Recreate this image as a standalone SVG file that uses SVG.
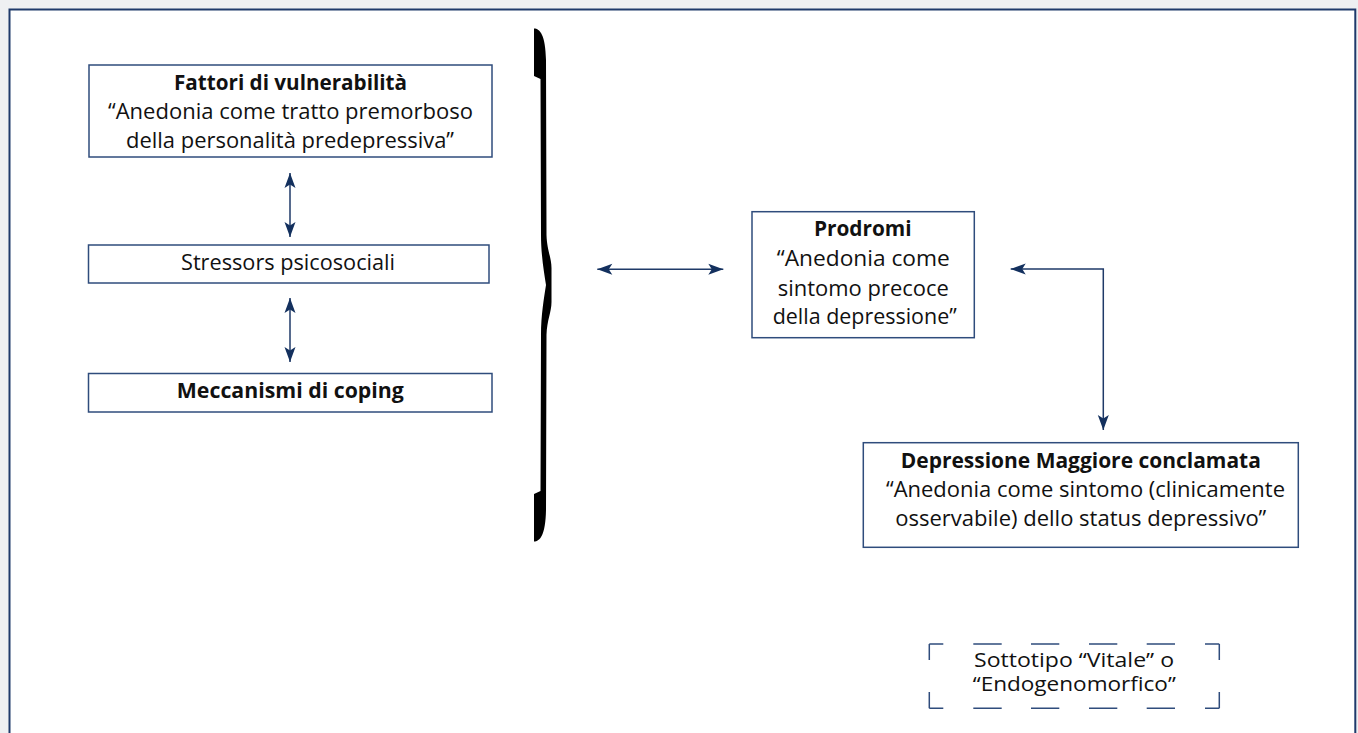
<svg xmlns="http://www.w3.org/2000/svg" width="1358" height="733" viewBox="0 0 1358 733">
<style>
.bg{fill:#eef0f2}
.page{fill:#ffffff}
.frame{fill:none;stroke:#1f3a6b;stroke-width:2}
.box{fill:#ffffff;stroke:#2f4c7c;stroke-width:1.5}
.dash{fill:none;stroke:#2f4c7c;stroke-width:1.5}
.conn{fill:none;stroke:#1f3a68;stroke-width:1.5}
.brace{fill:#000000}
text{font-family:"Open Sans","DejaVu Sans",sans-serif;font-size:21.5px;fill:#111111;text-anchor:middle}
.b{font-weight:bold;font-size:20.5px}
.s{font-size:19.5px}
</style>
<defs>
<marker id="ah" markerUnits="userSpaceOnUse" markerWidth="15" markerHeight="11" refX="15" refY="5.5" orient="auto-start-reverse" overflow="visible">
<path d="M0,0 L15,5.5 L0,11 L3.5,5.5 Z" fill="#13305e"/>
</marker>
</defs>
<rect class="bg" x="0" y="0" width="1358" height="733"/>
<rect class="page" x="9.5" y="9.5" width="1346" height="724"/>
<path class="frame" d="M9.5,733 V9.5 H1355.3 V733"/>

<g id="fattori">
<rect class="box" x="89" y="65" width="403" height="92"/>
<text class="b" x="290.5" y="90" textLength="233" lengthAdjust="spacingAndGlyphs">Fattori di vulnerabilità</text>
<text x="290.5" y="119.3" textLength="365" lengthAdjust="spacingAndGlyphs">“Anedonia come tratto premorboso</text>
<text x="290" y="148.3" textLength="328" lengthAdjust="spacingAndGlyphs">della personalità predepressiva”</text>
</g>

<g id="stressors">
<rect class="box" x="88.5" y="245" width="400.5" height="38"/>
<text x="288" y="270" textLength="214" lengthAdjust="spacingAndGlyphs">Stressors psicosociali</text>
</g>

<g id="coping">
<rect class="box" x="88.5" y="373.5" width="403.5" height="38.5"/>
<text class="b" x="290.3" y="398.3" textLength="227" lengthAdjust="spacingAndGlyphs">Meccanismi di coping</text>
</g>

<g id="brace">
<path class="brace" d="M534,28.5 C540,28.5 545.5,35 546,60 L546.5,235 C547,250 551.5,258 551.5,268 L551.5,302 C551.5,312 547,320 546.5,335 L546,510 C545.5,535 540,541.5 534,541.5 L534,494 L540.5,491 L541,335 C541,315 544,298 546,285 C544,272 541,255 541,235 L540.5,79 L534,76 Z"/>
</g>

<g id="prodromi">
<rect class="box" x="752" y="211.7" width="222.3" height="126"/>
<text class="b" x="862.8" y="236" textLength="97.7" lengthAdjust="spacingAndGlyphs">Prodromi</text>
<text x="863.3" y="265.7" textLength="173" lengthAdjust="spacingAndGlyphs">“Anedonia come</text>
<text x="863.3" y="295.7" textLength="171" lengthAdjust="spacingAndGlyphs">sintomo precoce</text>
<text x="864.7" y="324.3" textLength="184" lengthAdjust="spacingAndGlyphs">della depressione”</text>
</g>

<g id="depressione">
<rect class="box" x="863.3" y="442.7" width="435" height="104.6"/>
<text class="b" x="1080.8" y="467.7" textLength="360" lengthAdjust="spacingAndGlyphs">Depressione Maggiore conclamata</text>
<text x="1085.5" y="496.7" textLength="399" lengthAdjust="spacingAndGlyphs">“Anedonia come sintomo (clinicamente</text>
<text x="1080.8" y="526" textLength="371" lengthAdjust="spacingAndGlyphs">osservabile) dello status depressivo”</text>
</g>

<g id="sottotipo">
<path class="dash" d="M929.3,644 H943.3 M973.3,644 H1001.7 M1031,644 H1059.3 M1089,644 H1117.3 M1146.7,644 H1175 M1205,644 H1219.3 M929.3,708.3 H943.3 M973.3,708.3 H1001.7 M1031,708.3 H1059.3 M1089,708.3 H1117.3 M1146.7,708.3 H1175 M1205,708.3 H1219.3 M929.3,644 V660 M929.3,692 V708.3 M1219.3,644 V660 M1219.3,692 V708.3"/>
<text class="s" x="1074" y="667.3" textLength="200" lengthAdjust="spacingAndGlyphs">Sottotipo “Vitale” o</text>
<text class="s" x="1074.3" y="691" textLength="203" lengthAdjust="spacingAndGlyphs">“Endogenomorfico”</text>
</g>

<g id="connectors">
<path class="conn" d="M290,173 V237" marker-start="url(#ah)" marker-end="url(#ah)"/>
<path class="conn" d="M290,298 V362" marker-start="url(#ah)" marker-end="url(#ah)"/>
<path class="conn" d="M597.3,269.3 H723.3" marker-start="url(#ah)" marker-end="url(#ah)"/>
<path class="conn" d="M1010.7,269 H1103.3 V430" marker-start="url(#ah)" marker-end="url(#ah)"/>
</g>
</svg>
